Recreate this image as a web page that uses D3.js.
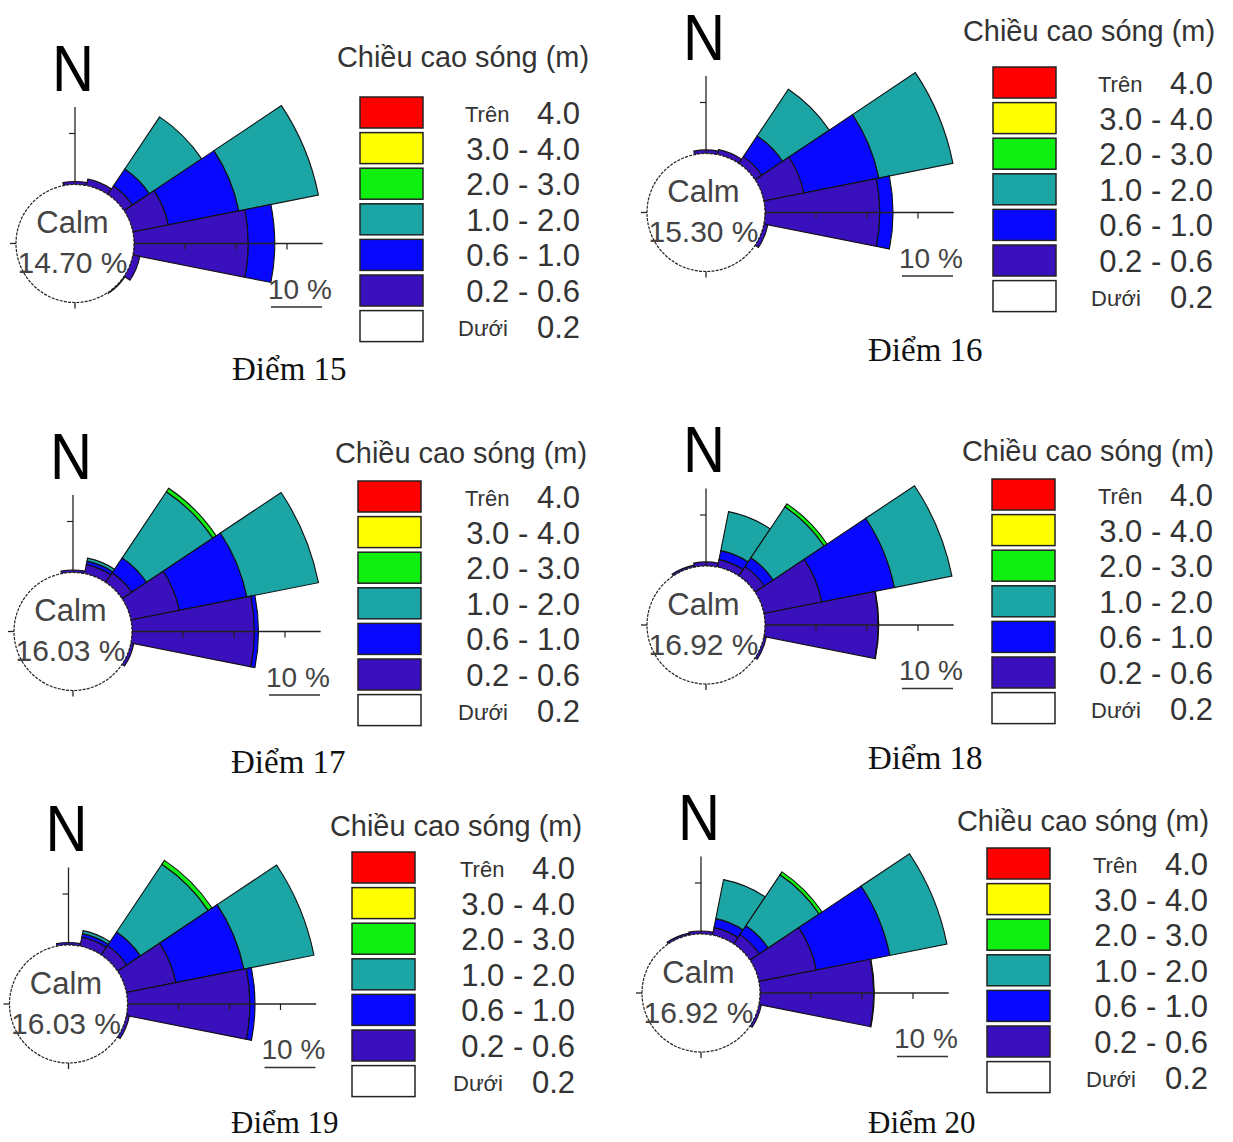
<!DOCTYPE html>
<html lang="vi">

<head>
    <meta charset="utf-8">
    <style>
    body { margin: 0; background: #fff; }
    svg { display: block; }
    .lbl { font-family: "Liberation Sans", Arial, sans-serif; fill: #333; }
    .cap { font-family: "Liberation Serif", "Times New Roman", serif; fill: #111; }
    </style>
</head>

<body>
    <svg width="1233" height="1142"></svg>
    <script src="https://d3js.org/d3.v7.min.js"></script>
    <script type="text/javascript">
    // 16 compass directions, clockwise from N
    var directions = ["N", "NNE", "NE", "ENE", "E", "ESE", "SE", "SSE",
        "S", "SSW", "SW", "WSW", "W", "WNW", "NW", "NNW"];

    // wave height classes, inner -> outer
    var heightClasses = ["0.2 - 0.6", "0.6 - 1.0", "1.0 - 2.0", "2.0 - 3.0", "3.0 - 4.0", "Trên 4.0"];
    var classColors = ["#3a10bc", "#0808ff", "#1ca5a5", "#10f010", "#ffff00", "#ff0000"];

    // legend (top -> bottom)
    var legendPrefix = ["Trên", "", "", "", "", "", "Dưới"];
    var legendValues = ["4.0", "3.0 - 4.0", "2.0 - 3.0", "1.0 - 2.0", "0.6 - 1.0", "0.2 - 0.6", "0.2"];
    var legendColors = ["#ff0000", "#ffff00", "#10f010", "#1ca5a5", "#0808ff", "#3a10bc", "#ffffff"];

    var stations = ["Điểm 15", "Điểm 16", "Điểm 17", "Điểm 18", "Điểm 19", "Điểm 20"];
    var calm = [14.70, 15.30, 16.03, 16.92, 16.03, 16.92];

    // frequency (%) per height class (rows) and direction N..NNW (columns)
    var diem15 = [
        [0.6, 1.3, 2.0, 7.1, 22.4, 1.4, 0.2, 0, 0, 0, 0, 0, 0, 0, 0, 0],
        [0, 0, 4.0, 14.1, 5.2, 0, 0, 0, 0, 0, 0, 0, 0, 0, 0, 0],
        [0, 0, 12.3, 15.9, 0, 0, 0, 0, 0, 0, 0, 0, 0, 0, 0, 0],
        [0, 0, 0, 0, 0, 0, 0, 0, 0, 0, 0, 0, 0, 0, 0, 0],
        [0, 0, 0, 0, 0, 0, 0, 0, 0, 0, 0, 0, 0, 0, 0, 0],
        [0, 0, 0, 0, 0, 0, 0, 0, 0, 0, 0, 0, 0, 0, 0, 0]
    ];
    var diem16 = [
        [0.7, 1.0, 1.6, 8.0, 22.5, 0.8, 0, 0, 0, 0, 0, 0, 0, 0, 0, 0],
        [0, 0, 4.9, 15.0, 2.6, 0, 0, 0, 0, 0, 0, 0, 0, 0, 0, 0],
        [0, 0, 11.0, 14.8, 0, 0, 0, 0, 0, 0, 0, 0, 0, 0, 0, 0],
        [0, 0, 0, 0, 0, 0, 0, 0, 0, 0, 0, 0, 0, 0, 0, 0],
        [0, 0, 0, 0, 0, 0, 0, 0, 0, 0, 0, 0, 0, 0, 0, 0],
        [0, 0, 0, 0, 0, 0, 0, 0, 0, 0, 0, 0, 0, 0, 0, 0]
    ];
    var diem17 = [
        [0.5, 1.8, 2.3, 9.7, 24.0, 0.6, 0, 0, 0, 0, 0, 0, 0, 0, 0, 0],
        [0, 0.7, 3.5, 13.5, 0.8, 0, 0, 0, 0, 0, 0, 0, 0, 0, 0, 0],
        [0, 0.6, 15.6, 14.3, 0, 0, 0, 0, 0, 0, 0, 0, 0, 0, 0, 0],
        [0, 0, 0.8, 0, 0, 0, 0, 0, 0, 0, 0, 0, 0, 0, 0, 0],
        [0, 0, 0, 0, 0, 0, 0, 0, 0, 0, 0, 0, 0, 0, 0, 0],
        [0, 0, 0, 0, 0, 0, 0, 0, 0, 0, 0, 0, 0, 0, 0, 0]
    ];
    var diem18 = [
        [0.8, 1.5, 2.2, 11.6, 22.2, 0.5, 0, 0, 0, 0, 0, 0, 0, 0, 0, 0.4],
        [0, 1.8, 2.1, 14.5, 0.1, 0, 0, 0, 0, 0, 0, 0, 0, 0, 0, 0],
        [0, 7.8, 12.0, 11.5, 0, 0, 0, 0, 0, 0, 0, 0, 0, 0, 0, 0],
        [0, 0, 0.7, 0, 0, 0, 0, 0, 0, 0, 0, 0, 0, 0, 0, 0],
        [0, 0, 0, 0, 0, 0, 0, 0, 0, 0, 0, 0, 0, 0, 0, 0],
        [0, 0, 0, 0, 0, 0, 0, 0, 0, 0, 0, 0, 0, 0, 0, 0]
    ];
    var diem19 = [
        [0.5, 1.8, 2.2, 9.9, 24.0, 0.6, 0, 0, 0, 0, 0, 0, 0, 0, 0, 0],
        [0, 0.7, 3.2, 13.6, 1.0, 0, 0, 0, 0, 0, 0, 0, 0, 0, 0, 0],
        [0, 0.6, 16.0, 14.0, 0, 0, 0, 0, 0, 0, 0, 0, 0, 0, 0, 0],
        [0, 0, 0.9, 0, 0, 0, 0, 0, 0, 0, 0, 0, 0, 0, 0, 0],
        [0, 0, 0, 0, 0, 0, 0, 0, 0, 0, 0, 0, 0, 0, 0, 0],
        [0, 0, 0, 0, 0, 0, 0, 0, 0, 0, 0, 0, 0, 0, 0, 0]
    ];
    var diem20 = [
        [0.6, 1.5, 2.2, 11.5, 22.3, 0.5, 0, 0, 0, 0, 0, 0, 0, 0, 0, 0.4],
        [0, 1.8, 2.1, 14.7, 0.1, 0, 0, 0, 0, 0, 0, 0, 0, 0, 0, 0],
        [0, 7.8, 12.0, 11.4, 0, 0, 0, 0, 0, 0, 0, 0, 0, 0, 0, 0],
        [0, 0, 0.7, 0, 0, 0, 0, 0, 0, 0, 0, 0, 0, 0, 0, 0],
        [0, 0, 0, 0, 0, 0, 0, 0, 0, 0, 0, 0, 0, 0, 0, 0],
        [0, 0, 0, 0, 0, 0, 0, 0, 0, 0, 0, 0, 0, 0, 0, 0]
    ];
    var stationData = [diem15, diem16, diem17, diem18, diem19, diem20];

    // page layout of each panel (rose centre, legend, caption)
    var panels = [
        { cx: 75, cy: 243.5, titleX: 337, titleY: 67, legX: 360, legY: 97, labR: 580, capX: 232, capY: 380 },
        { cx: 706, cy: 212.5, titleX: 963, titleY: 41, legX: 993, legY: 67, labR: 1213, capX: 868, capY: 361 },
        { cx: 73, cy: 631.5, titleX: 335, titleY: 463, legX: 358, legY: 481, labR: 580, capX: 231, capY: 773 },
        { cx: 706, cy: 625, titleX: 962, titleY: 461, legX: 992, legY: 479, labR: 1213, capX: 868, capY: 769 },
        { cx: 68.5, cy: 1004, titleX: 330, titleY: 836, legX: 352, legY: 852, labR: 575, capX: 231, capY: 1133 },
        { cx: 701, cy: 993, titleX: 957, titleY: 831, legX: 987, legY: 848, labR: 1208, capX: 868, capY: 1133 }
    ];

    var svg = d3.select("svg");

    // radial scale: percent -> pixels, bars start at the calm circle
    var r = d3.scaleLinear().domain([0, 10]).range([59, 110]);
    var rad = Math.PI / 180;

    function polar(deg, rr) {
        return [rr * Math.sin(deg * rad), -rr * Math.cos(deg * rad)];
    }

    function drawRose(p, i) {
        var g = svg.append("g")
            .attr("transform", "translate(" + p.cx + "," + p.cy + ")");

        // stack classes outward for each direction
        var segs = [];
        directions.forEach(function(dir, j) {
            var cum = 0;
            stationData[i].forEach(function(row, c) {
                if (row[j] > 0) {
                    segs.push({ dir: j, cls: c, from: cum, to: cum + row[j] });
                    cum += row[j];
                }
            });
        });

        var arc = d3.arc()
            .innerRadius(function(d) { return r(d.from); })
            .outerRadius(function(d) { return r(d.to); })
            .startAngle(function(d) { return (d.dir * 22.5 - 11.25) * rad; })
            .endAngle(function(d) { return (d.dir * 22.5 + 11.25) * rad; });

        g.selectAll(".seg")
            .data(segs)
            .enter().append("path")
            .attr("class", "seg")
            .attr("d", arc)
            .attr("fill", function(d) { return classColors[d.cls]; })
            .attr("stroke", "#111")
            .attr("stroke-width", 1.1);

        // axes: long to the east, shorter to the north
        var axes = [{ deg: 0, len: 15.2, ticks: [10] }, { deg: 90, len: 37, ticks: [10, 20, 30] }];
        axes.forEach(function(a) {
            var p0 = polar(a.deg, r(0)), p1 = polar(a.deg, r(a.len));
            g.append("line")
                .attr("x1", p0[0]).attr("y1", p0[1])
                .attr("x2", p1[0]).attr("y2", p1[1])
                .attr("stroke", "#222").attr("stroke-width", 1.3);
            a.ticks.forEach(function(t) {
                var q = polar(a.deg, r(t));
                var off = a.deg === 0 ? [-6, 0] : [0, 6];
                g.append("line")
                    .attr("x1", q[0]).attr("y1", q[1])
                    .attr("x2", q[0] + off[0]).attr("y2", q[1] + off[1])
                    .attr("stroke", "#222").attr("stroke-width", 1.2);
            });
        });
        // short marks to the south and west
        [180, 270].forEach(function(deg) {
            var a0 = polar(deg, r(0) - 2), a1 = polar(deg, r(0) + 6);
            g.append("line")
                .attr("x1", a0[0]).attr("y1", a0[1])
                .attr("x2", a1[0]).attr("y2", a1[1])
                .attr("stroke", "#222").attr("stroke-width", 1.3);
        });

        // calm circle
        g.append("circle")
            .attr("r", r(0))
            .attr("fill", "#fff")
            .attr("stroke", "#222")
            .attr("stroke-width", 1.2)
            .attr("stroke-dasharray", "3,1.2");

        g.append("text").attr("class", "lbl")
            .attr("x", -2.5).attr("y", -10.5)
            .attr("text-anchor", "middle")
            .attr("font-size", 31).style("fill", "#444")
            .text("Calm");
        g.append("text").attr("class", "lbl")
            .attr("x", -2.5).attr("y", 29.5)
            .attr("text-anchor", "middle")
            .attr("font-size", 30).style("fill", "#444")
            .text(calm[i].toFixed(2) + " %");

        // north marker
        g.append("text").attr("class", "lbl")
            .attr("x", -23).attr("y", -153)
            .attr("font-size", 64).style("fill", "#000")
            .attr("textLength", 42).attr("lengthAdjust", "spacingAndGlyphs")
            .text("N");

        // 10 % scale bar
        g.append("text").attr("class", "lbl")
            .attr("x", 193).attr("y", 55)
            .attr("font-size", 28).style("fill", "#444")
            .text("10 %");
        g.append("line")
            .attr("x1", 196).attr("x2", 196 + r(10) - r(0))
            .attr("y1", 63.5).attr("y2", 63.5)
            .attr("stroke", "#333").attr("stroke-width", 1.5);
    }

    function drawLegend(p) {
        var g = svg.append("g");
        g.append("text").attr("class", "lbl")
            .attr("x", p.titleX).attr("y", p.titleY)
            .attr("font-size", 29)
            .attr("textLength", 252).attr("lengthAdjust", "spacingAndGlyphs")
            .text("Chiều cao sóng (m)");

        var pitch = 35.6;
        g.selectAll(".box")
            .data(legendColors)
            .enter().append("rect")
            .attr("class", "box")
            .attr("x", p.legX)
            .attr("y", function(d, k) { return p.legY + k * pitch; })
            .attr("width", 63).attr("height", 31)
            .attr("fill", function(d) { return d; })
            .attr("stroke", "#222").attr("stroke-width", 1.5);

        g.selectAll(".val")
            .data(legendValues)
            .enter().append("text")
            .attr("class", "lbl val")
            .attr("x", p.labR)
            .attr("y", function(d, k) { return p.legY + k * pitch + 27; })
            .attr("text-anchor", "end")
            .attr("font-size", 31)
            .text(function(d) { return d; });

        g.selectAll(".pre")
            .data(legendPrefix)
            .enter().append("text")
            .attr("class", "lbl pre")
            .attr("x", function(d, k) { return p.labR - (k === 0 ? 115 : 122); })
            .attr("y", function(d, k) { return p.legY + k * pitch + 25; })
            .attr("font-size", 22)
            .text(function(d) { return d; });
    }

    panels.forEach(function(p, i) {
        drawRose(p, i);
        drawLegend(p);
        svg.append("text").attr("class", "cap")
            .attr("x", p.capX).attr("y", p.capY)
            .attr("font-size", i > 3 ? 31 : 33)
            .text(stations[i]);
    });
    </script>
</body>

</html>
